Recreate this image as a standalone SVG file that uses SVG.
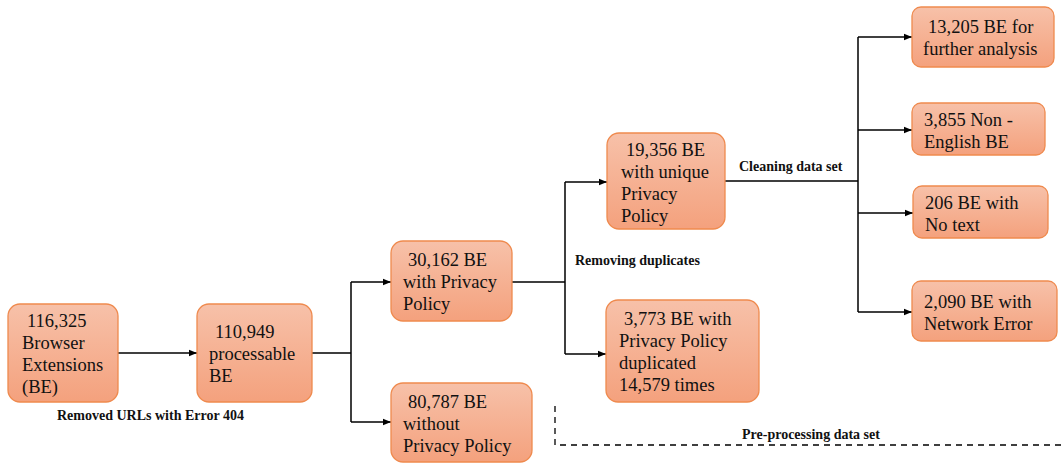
<svg xmlns="http://www.w3.org/2000/svg" width="1064" height="464" viewBox="0 0 1064 464">
<defs>
<linearGradient id="g" x1="0" y1="0" x2="0" y2="1">
<stop offset="0" stop-color="#F7C1A9"/>
<stop offset="1" stop-color="#F4A17D"/>
</linearGradient>
<marker id="ah" viewBox="0 0 10 10" refX="10" refY="5" markerWidth="8" markerHeight="8" markerUnits="userSpaceOnUse" orient="auto">
<path d="M0,1 L10,5 L0,9 z" fill="#000"/>
</marker>
</defs>
<style>
.box{fill:url(#g);stroke:#EF8A4E;stroke-width:1.3}
.t{font-family:"Liberation Serif","Times New Roman",serif;font-size:18.5px;fill:#111}
.lbl{font-family:"Liberation Serif","Times New Roman",serif;font-size:14px;font-weight:bold;fill:#111}
.c{fill:none;stroke:#000;stroke-width:1.5}
.a{marker-end:url(#ah)}
.d{fill:none;stroke:#000;stroke-width:1.3;stroke-dasharray:6,5}
</style>
<rect width="1064" height="464" fill="#fff"/>
<g id="connectors">
<path class="c a" d="M118,353 H197"/>
<path class="c" d="M312,353 H351 M351,282 V422"/>
<path class="c a" d="M351,282 H391"/>
<path class="c a" d="M351,422 H391"/>
<path class="c" d="M512,282 H565 M565,182 V354"/>
<path class="c a" d="M565,182 H607"/>
<path class="c a" d="M565,354 H606"/>
<path class="c" d="M725,181 H858 M858,37 V312"/>
<path class="c a" d="M858,37 H912"/>
<path class="c a" d="M858,130 H912"/>
<path class="c a" d="M858,213 H913"/>
<path class="c a" d="M858,312 H912"/>
<path class="d" d="M555,406 V445 H1064"/>
</g>
<g id="labels">
<text class="lbl" x="57" y="420">Removed URLs with Error 404</text>
<text class="lbl" x="575" y="265">Removing duplicates</text>
<text class="lbl" x="739" y="171">Cleaning data set</text>
<text class="lbl" x="742" y="439">Pre-processing data set</text>
</g>
<g id="n1">
<rect class="box" x="8" y="304" width="110" height="98" rx="12"/>
<text class="t"><tspan x="27" y="327">116,325</tspan><tspan x="22" y="349">Browser</tspan><tspan x="22" y="371">Extensions</tspan><tspan x="22" y="393">(BE)</tspan></text>
</g>
<g id="n2">
<rect class="box" x="197" y="304" width="115" height="98" rx="12"/>
<text class="t"><tspan x="215" y="338">110,949</tspan><tspan x="209" y="360">processable</tspan><tspan x="209" y="382">BE</tspan></text>
</g>
<g id="n3">
<rect class="box" x="391" y="241" width="121" height="80" rx="12"/>
<text class="t"><tspan x="408" y="266">30,162 BE</tspan><tspan x="403" y="288">with Privacy</tspan><tspan x="403" y="310">Policy</tspan></text>
</g>
<g id="n4">
<rect class="box" x="391" y="383" width="141" height="79" rx="12"/>
<text class="t"><tspan x="408" y="408">80,787 BE</tspan><tspan x="403" y="430">without</tspan><tspan x="403" y="452">Privacy Policy</tspan></text>
</g>
<g id="n5">
<rect class="box" x="607" y="133" width="118" height="96" rx="12"/>
<text class="t"><tspan x="626" y="156">19,356 BE</tspan><tspan x="621" y="178">with unique</tspan><tspan x="621" y="200">Privacy</tspan><tspan x="621" y="222">Policy</tspan></text>
</g>
<g id="n6">
<rect class="box" x="606" y="300" width="153" height="102" rx="12"/>
<text class="t"><tspan x="624" y="325">3,773 BE with</tspan><tspan x="619" y="347">Privacy Policy</tspan><tspan x="619" y="369">duplicated</tspan><tspan x="619" y="391">14,579 times</tspan></text>
</g>
<g id="n7">
<rect class="box" x="912" y="7" width="142" height="60" rx="9"/>
<text class="t"><tspan x="928" y="33">13,205 BE for</tspan><tspan x="923" y="55">further analysis</tspan></text>
</g>
<g id="n8">
<rect class="box" x="912" y="103" width="133" height="52" rx="9"/>
<text class="t"><tspan x="924" y="126">3,855 Non -</tspan><tspan x="924" y="148">English BE</tspan></text>
</g>
<g id="n9">
<rect class="box" x="913" y="186" width="135" height="52" rx="9"/>
<text class="t"><tspan x="925" y="209">206 BE with</tspan><tspan x="925" y="231">No text</tspan></text>
</g>
<g id="n10">
<rect class="box" x="912" y="281" width="145" height="60" rx="9"/>
<text class="t"><tspan x="924" y="308">2,090 BE with</tspan><tspan x="924" y="330">Network Error</tspan></text>
</g>
</svg>
